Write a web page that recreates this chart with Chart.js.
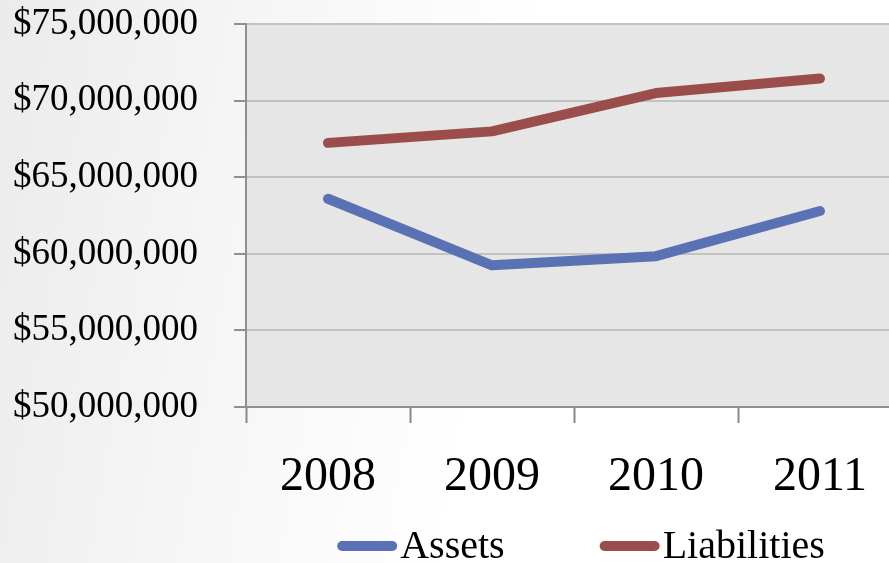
<!DOCTYPE html>
<html>
<head>
<meta charset="utf-8">
<script src="https://cdn.jsdelivr.net/npm/chart.js@4"></script>
<style>
html,body{margin:0;padding:0;overflow:hidden;width:889px;height:563px;}
body{background:linear-gradient(100deg,#ebebeb 0%,#f6f6f6 28%,#ffffff 55%,#ffffff 100%);}
#wrap{position:absolute;left:0;top:-34px;width:920px;height:597px;}
</style>
</head>
<body>
<div id="wrap"><canvas id="c" width="920" height="597"></canvas></div>
<script>
const categories = ['2008', '2009', '2010', '2011'];
const assets = [63600000, 59250000, 59850000, 62800000];
const liabilities = [67250000, 68000000, 70500000, 71450000];
const yTicks = [50000000, 55000000, 60000000, 65000000, 70000000, 75000000];

const FONT = "'Liberation Serif', 'DejaVu Serif', serif";

const plotBg = {
  id: 'plotBg',
  beforeDraw(chart) {
    const a = chart.chartArea, ctx = chart.ctx;
    ctx.save();
    ctx.fillStyle = '#e6e6e6';
    ctx.fillRect(a.left, a.top, a.right - a.left, a.bottom - a.top);
    ctx.restore();
  }
};

const customLegend = {
  id: 'customLegend',
  afterDraw(chart) {
    const ctx = chart.ctx, a = chart.chartArea;
    const fontSize = 40;
    ctx.save();
    ctx.font = fontSize + 'px ' + FONT;
    const lineW = 60, gap = 3, itemGap = 95;
    const items = chart.data.datasets.map(d => ({ text: d.label, color: d.borderColor, w: ctx.measureText(d.label).width }));
    const total = items.reduce((s, it) => s + lineW + gap + it.w, 0) + itemGap * (items.length - 1);
    let x = (a.left + a.right) / 2 + 7 - total / 2;
    const y = a.bottom + 139;
    items.forEach(it => {
      ctx.strokeStyle = it.color;
      ctx.lineWidth = 10;
      ctx.lineCap = 'round';
      ctx.beginPath();
      ctx.moveTo(x + 5, y);
      ctx.lineTo(x + lineW - 5, y);
      ctx.stroke();
      ctx.fillStyle = '#000';
      ctx.textBaseline = 'middle';
      ctx.textAlign = 'left';
      ctx.fillText(it.text, x + lineW + gap, y + 1);
      x += lineW + gap + it.w + itemGap;
    });
    ctx.restore();
  }
};

new Chart(document.getElementById('c'), {
  type: 'line',
  data: {
    labels: categories,
    datasets: [
      { label: 'Assets', data: assets, borderColor: '#5a72b4', backgroundColor: '#5a72b4',
        borderWidth: 10, pointRadius: 0, borderCapStyle: 'round', borderJoinStyle: 'round', tension: 0 },
      { label: 'Liabilities', data: liabilities, borderColor: '#9b4d4c', backgroundColor: '#9b4d4c',
        borderWidth: 10, pointRadius: 0, borderCapStyle: 'round', borderJoinStyle: 'round', tension: 0 }
    ]
  },
  options: {
    responsive: false,
    animation: false,
    devicePixelRatio: 1,
    layout: { padding: { top: 24, right: 18, left: 0, bottom: 46 } },
    plugins: {
      tooltip: { enabled: false },
      legend: { display: false }
    },
    scales: {
      x: {
        offset: true,
        grid: { offset: true, drawOnChartArea: false, drawTicks: true, tickLength: 16, tickColor: '#888', tickWidth: 2 },
        border: { display: true, color: '#8f8f8f', width: 2 },
        ticks: { font: { family: FONT, size: 48 }, color: '#000', padding: 26, maxRotation: 0 },
        afterFit(s) { s.height = 110; }
      },
      y: {
        min: 50000000, max: 75000000,
        afterBuildTicks(s) { s.ticks = yTicks.map(v => ({ value: v })); },
        grid: { color: '#c2c2c2', lineWidth: 2, drawTicks: true, tickLength: 12, tickColor: '#8f8f8f' },
        border: { display: true, color: '#8f8f8f', width: 2 },
        ticks: {
          font: { family: FONT, size: 37 }, color: '#000', padding: 36,
          callback: v => '$' + Number(v).toLocaleString('en-US')
        },
        afterFit(s) { s.width = 246; }
      }
    }
  },
  plugins: [plotBg, customLegend]
});
</script>
</body>
</html>
